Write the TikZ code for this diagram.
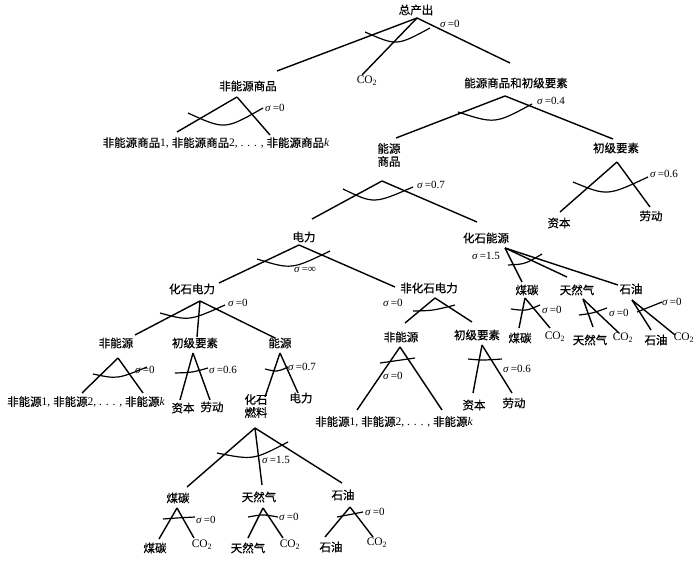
\documentclass[tikz,border=0pt]{standalone}
\usepackage{fontspec}
\setmainfont{Liberation Serif}
\newfontfamily\cjk[FakeBold=0.6]{Noto Sans CJK SC}
\usetikzlibrary{calc}
\newcommand\lat[1]{{\rmfamily#1}}
\newcommand\sig[1]{\textit{σ}\,=#1}
\newcommand\cotwo{\lat{CO\textsubscript{2}}}
\newcommand\sarc[3]{\draw[arcl] (#1) .. controls ($1.3333*(#2)-0.16667*(#1)-0.16667*(#3)$) .. (#3);}
\begin{document}
\begin{tikzpicture}[x=1pt,y=-1pt,
  lbl/.style={font=\cjk\fontsize{11.5}{13}\selectfont,inner sep=0pt,align=center},
  sg/.style={font=\fontsize{11}{13}\selectfont,inner sep=0pt,anchor=west},
  br/.style={line width=1.4pt},
  arcl/.style={line width=1.2pt}]
\useasboundingbox (0,0) rectangle (700,561);
\node[lbl] (tot) at (416,10) {总产出};
\node[lbl] (co2a) at (367,81) {\cotwo};
\node[lbl] (neg) at (248,86) {非能源商品};
\node[lbl] (egp) at (516,83) {能源商品和初级要素};
\node[lbl] (negk) at (216,143) {非能源商品\lat{1, }非能源商品\lat{2, . . . , }非能源商品\lat{\textit{k}}};
\node[lbl] (eg) at (389,155) {能源\\商品};
\node[lbl] (pfa) at (616,148) {初级要素};
\node[lbl] (capa) at (559,223) {资本};
\node[lbl] (laba) at (651,216) {劳动};
\node[lbl] (elec) at (304,237) {电力};
\node[lbl] (fe) at (486,238) {化石能源};
\node[lbl] (fel) at (192,289) {化石电力};
\node[lbl] (nfel) at (429,288) {非化石电力};
\node[lbl] (coala) at (527,290) {煤碳};
\node[lbl] (gasa) at (577,290) {天然气};
\node[lbl] (oila) at (631,289) {石油};
\node[lbl] (coalb) at (520,338) {煤碳};
\node[lbl] (coco) at (555,337) {\cotwo};
\node[lbl] (gasb) at (590,340) {天然气};
\node[lbl] (gaco) at (623,338) {\cotwo};
\node[lbl] (oilb) at (656,340) {石油};
\node[lbl] (oico) at (684,338) {\cotwo};
\node[lbl] (nea) at (116,343) {非能源};
\node[lbl] (pfb) at (195,343) {初级要素};
\node[lbl] (ena) at (280,343) {能源};
\node[lbl] (neak) at (86,402) {非能源\lat{1, }非能源\lat{2, . . . , }非能源\lat{\textit{k}}};
\node[lbl] (capb) at (183,408) {资本};
\node[lbl] (labb) at (212,407) {劳动};
\node[lbl] (ff) at (256,406) {化石\\燃料};
\node[lbl] (elb) at (301,398) {电力};
\node[lbl] (neb) at (401,337) {非能源};
\node[lbl] (pfc) at (477,335) {初级要素};
\node[lbl] (nebk) at (394,422) {非能源\lat{1, }非能源\lat{2, . . . , }非能源\lat{\textit{k}}};
\node[lbl] (capc) at (474,405) {资本};
\node[lbl] (labc) at (514,403) {劳动};
\node[lbl] (coalc) at (178,498) {煤碳};
\node[lbl] (gasc) at (259,497) {天然气};
\node[lbl] (oilc) at (343,495) {石油};
\node[lbl] (coald) at (155,548) {煤碳};
\node[lbl] (cocd) at (202,545) {\cotwo};
\node[lbl] (gasd) at (248,548) {天然气};
\node[lbl] (gacd) at (290,545) {\cotwo};
\node[lbl] (oild) at (331,547) {石油};
\node[lbl] (oicd) at (377,543) {\cotwo};
\coordinate (tot0) at (417,18); \coordinate (tot1) at (277,71); \coordinate (tot2) at (362,75); \coordinate (tot3) at (510,63);
\coordinate (neg0) at (237,97); \coordinate (neg1) at (177,132); \coordinate (neg2) at (270,135);
\coordinate (egp0) at (505,96); \coordinate (egp1) at (396,138); \coordinate (egp2) at (613,139);
\coordinate (pfa0) at (617,162); \coordinate (pfa1) at (560,212); \coordinate (pfa2) at (650,207);
\coordinate (eg0) at (382,181); \coordinate (eg1) at (312,219); \coordinate (eg2) at (477,222);
\coordinate (elec0) at (299,245); \coordinate (elec1) at (219,283); \coordinate (elec2) at (395,287);
\coordinate (fe0) at (505,248); \coordinate (fe1) at (522,282); \coordinate (fe2) at (567,277); \coordinate (fe3) at (618,285);
\coordinate (fel0) at (200,301); \coordinate (fel1) at (135,335); \coordinate (fel2) at (197,337); \coordinate (fel3) at (275,338);
\coordinate (nfel0) at (435,298); \coordinate (nfel1) at (405,323); \coordinate (nfel2) at (472,322);
\coordinate (coala0) at (525,298); \coordinate (coala1) at (519,328); \coordinate (coala2) at (550,328);
\coordinate (gasa0) at (583,299); \coordinate (gasa1) at (593,327); \coordinate (gasa2) at (619,333);
\coordinate (oila0) at (632,300); \coordinate (oila1) at (651,330); \coordinate (oila2) at (675,335);
\coordinate (nea0) at (118,358); \coordinate (nea1) at (82,393); \coordinate (nea2) at (143,393);
\coordinate (pfb0) at (193,353); \coordinate (pfb1) at (180,400); \coordinate (pfb2) at (210,400);
\coordinate (ena0) at (280,353); \coordinate (ena1) at (265,397); \coordinate (ena2) at (298,393);
\coordinate (neb0) at (400,347); \coordinate (neb1) at (357,410); \coordinate (neb2) at (442,410);
\coordinate (pfc0) at (482,345); \coordinate (pfc1) at (473,393); \coordinate (pfc2) at (512,393);
\coordinate (ff0) at (255,428); \coordinate (ff1) at (187,487); \coordinate (ff2) at (262,485); \coordinate (ff3) at (342,483);
\coordinate (coalc0) at (177,508); \coordinate (coalc1) at (159,539); \coordinate (coalc2) at (194,538);
\coordinate (gasc0) at (263,508); \coordinate (gasc1) at (248,538); \coordinate (gasc2) at (283,538);
\coordinate (oilc0) at (350,507); \coordinate (oilc1) at (325,537); \coordinate (oilc2) at (373,537);
\foreach \n in {tot,fe,fel,ff}
  \foreach \i in {1,2,3} \draw[br] (\n0) -- (\n\i);
\foreach \n in {neg,egp,pfa,eg,elec,nfel,coala,gasa,oila,nea,pfb,ena,neb,pfc,coalc,gasc,oilc}
  \foreach \i in {1,2} \draw[br] (\n0) -- (\n\i);
\sarc{365,32}{397,42}{430,28}
\sarc{188,113}{225,125}{263,108}
\sarc{458,112}{495,120}{532,104}
\sarc{573,182}{608,192}{648,177}
\sarc{343,189}{375,200}{413,187}
\sarc{257,259}{292,266}{330,251}
\sarc{508,265}{525,263}{542,254}
\sarc{160,313}{190,318}{225,305}
\sarc{413,311}{433,310}{455,305}
\sarc{511,309}{526,310}{540,305}
\sarc{579,315}{592,313}{607,308}
\sarc{637,312}{650,307}{662,302}
\sarc{93,374}{118,377}{147,367}
\sarc{175,373}{192,372}{208,368}
\sarc{265,369}{277,371}{288,367}
\sarc{380,363}{397,360}{415,358}
\sarc{468,359}{483,360}{502,359}
\sarc{217,453}{253,457}{288,442}
\sarc{163,519}{177,518}{195,517}
\sarc{248,517}{263,515}{278,517}
\sarc{337,517}{350,515}{363,512}
\node[sg] (s-tot) at (440,24) {\sig{0}};
\node[sg] (s-neg) at (265,108) {\sig{0}};
\node[sg] (s-egp) at (537,101) {\sig{0.4}};
\node[sg] (s-pfa) at (650,174) {\sig{0.6}};
\node[sg] (s-eg) at (417,185) {\sig{0.7}};
\node[sg] (s-elec) at (294,270) {\sig{∞}};
\node[sg] (s-fe) at (472,256) {\sig{1.5}};
\node[sg] (s-fel) at (228,303) {\sig{0}};
\node[sg] (s-nfel) at (383,303) {\sig{0}};
\node[sg] (s-coala) at (542,310) {\sig{0}};
\node[sg] (s-gasa) at (609,313) {\sig{0}};
\node[sg] (s-oila) at (662,302) {\sig{0}};
\node[sg] (s-nea) at (135,370) {\sig{0}};
\node[sg] (s-pfb) at (209,370) {\sig{0.6}};
\node[sg] (s-ena) at (288,367) {\sig{0.7}};
\node[sg] (s-neb) at (383,376) {\sig{0}};
\node[sg] (s-pfc) at (503,369) {\sig{0.6}};
\node[sg] (s-ff) at (262,460) {\sig{1.5}};
\node[sg] (s-coalc) at (196,520) {\sig{0}};
\node[sg] (s-gasc) at (279,517) {\sig{0}};
\node[sg] (s-oilc) at (365,512) {\sig{0}};
\end{tikzpicture}
\end{document}
